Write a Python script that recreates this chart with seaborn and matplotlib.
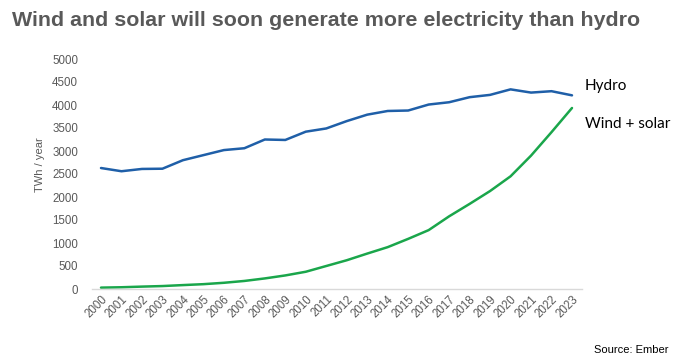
import matplotlib
matplotlib.use("Agg")
import matplotlib.pyplot as plt
import seaborn as sns
import pandas as pd

years = list(range(2000, 2024))
hydro = [2630, 2560, 2610, 2615, 2800, 2910, 3020, 3060, 3250, 3240, 3420, 3490,
         3650, 3790, 3870, 3880, 4010, 4060, 4170, 4220, 4340, 4270, 4300, 4210]
wind_solar = [30, 38, 52, 64, 85, 105, 135, 175, 230, 295, 375, 500,
              625, 770, 910, 1090, 1280, 1580, 1850, 2130, 2450, 2900, 3410, 3935]
series_names = ["Hydro", "Wind + solar"]
colors = ["#1f5fa8", "#1aa64b"]

df = pd.DataFrame({
    "year": years * 2,
    "value": hydro + wind_solar,
    "series": [series_names[0]] * len(years) + [series_names[1]] * len(years),
})

sns.set_theme(style="white")
plt.rcParams["font.family"] = ["Liberation Sans", "DejaVu Sans"]

fig = plt.figure(figsize=(6.8, 3.62), dpi=100)
ax = fig.add_axes([92 / 680, 1 - 289 / 362, (582 - 92) / 680, (289 - 59) / 362])

sns.lineplot(data=df, x="year", y="value", hue="series", palette=colors,
             linewidth=1.8, ax=ax, legend=False)

px_per_year = (572 - 101) / 23
ax.set_xlim(2000 - 9 / px_per_year, 2023 + 10 / px_per_year)
ax.set_ylim(0, 5000)
ax.set_yticks(range(0, 5001, 500))
ax.set_xticks(years)
ax.set_xticklabels([str(y) for y in years], rotation=45, ha="right",
                   rotation_mode="anchor", fontsize=8.3, color="#595959")
ax.tick_params(axis="y", labelsize=8.3, labelcolor="#595959", length=0, pad=10)
ax.tick_params(axis="x", length=0, pad=3)
for s in ["top", "right", "left"]:
    ax.spines[s].set_visible(False)
ax.spines["bottom"].set_color("#d9d9d9")
ax.spines["bottom"].set_linewidth(1.0)
ax.set_xlabel("")
ax.set_ylabel("TWh / year", fontsize=8, color="#595959", labelpad=8)
ax.yaxis.set_label_coords(-0.095, 0.54)
ax.grid(False)

ax.text(2023 + 13 / px_per_year, hydro[-1] + 200, series_names[0], fontsize=11,
        color="black", va="center", ha="left", family=["Lato", "DejaVu Sans"])
ax.text(2023 + 13 / px_per_year, wind_solar[-1] - 350, series_names[1], fontsize=11,
        color="black", va="center", ha="left", family=["Lato", "DejaVu Sans"])

fig.text(12 / 680, 1 - 21 / 362, "Wind and solar will soon generate more electricity than hydro",
         fontsize=15.4, fontweight="bold", color="#595959", va="center", ha="left")
fig.text(668 / 680, 1 - 350 / 362, "Source: Ember", fontsize=8, color="black",
         va="center", ha="right")

fig.savefig("out.png", dpi=100)
